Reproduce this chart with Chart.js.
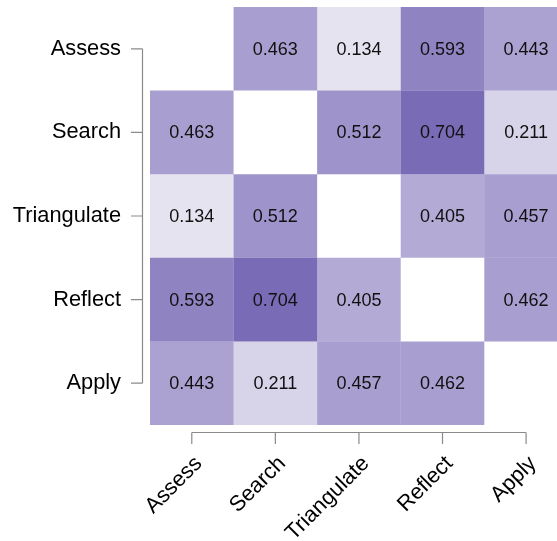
<!DOCTYPE html>
<html>
<head>
<meta charset="utf-8">
<script src="https://cdn.jsdelivr.net/npm/chart.js@4/dist/chart.umd.min.js"></script>
<style>
  html, body { margin: 0; padding: 0; background: #fff; }
  #wrap { width: 557px; height: 541px; position: relative; }
</style>
</head>
<body>
<div id="wrap"><canvas id="c"></canvas></div>
<script>
// Categories (same on both axes)
const categories = ['Assess', 'Search', 'Triangulate', 'Reflect', 'Apply'];

// Correlation matrix rows (null = diagonal, left blank)
const rowAssess      = [null, 0.463, 0.134, 0.593, 0.443];
const rowSearch      = [0.463, null, 0.512, 0.704, 0.211];
const rowTriangulate = [0.134, 0.512, null, 0.405, 0.457];
const rowReflect     = [0.593, 0.704, 0.405, null, 0.462];
const rowApply       = [0.443, 0.211, 0.457, 0.462, null];
const matrixRows = [rowAssess, rowSearch, rowTriangulate, rowReflect, rowApply];

const BASE = [66, 45, 152];
const FONT = "'Liberation Sans', Arial, Helvetica, sans-serif";

// One dataset per column; each data point is a floating bar spanning one cell.
const datasets = categories.map((col, c) => {
  const pts = [];
  matrixRows.forEach((row, r) => {
    const v = row[c];
    if (v !== null) pts.push({ y: r + 1, x: [c + 0.5, c + 1.5], v: v });
  });
  return {
    label: col,
    data: pts,
    backgroundColor: ctx => {
      const v = ctx.raw ? ctx.raw.v : 0;
      return `rgba(${BASE[0]},${BASE[1]},${BASE[2]},${v})`;
    },
    borderWidth: 0,
    inflateAmount: 0,
    grouped: false,
    categoryPercentage: 1,
    barPercentage: 1
  };
});

const tickValues = categories.map((_, i) => ({ value: i + 1 }));

const cellLabels = {
  id: 'cellLabels',
  afterDatasetsDraw(chart) {
    const ctx = chart.ctx;
    ctx.save();
    ctx.font = `18px ${FONT}`;
    ctx.fillStyle = '#111';
    ctx.textAlign = 'center';
    ctx.textBaseline = 'middle';
    chart.data.datasets.forEach((ds, di) => {
      const meta = chart.getDatasetMeta(di);
      meta.data.forEach((el, i) => {
        const p = el.getProps(['x', 'y', 'base'], true);
        const cx = (p.x + p.base) / 2;
        ctx.fillText(ds.data[i].v.toFixed(3), cx, p.y + 1);
      });
    });
    ctx.restore();
  }
};

const rangeFrame = {
  id: 'rangeFrame',
  afterDraw(chart) {
    const { ctx, chartArea, scales } = chart;
    const xs = scales.x, ys = scales.y;
    ctx.save();
    ctx.strokeStyle = '#8a8a8a';
    ctx.lineWidth = 1.2;
    // y axis
    const ax = chartArea.left - 7.5;
    const y1 = ys.getPixelForValue(1), y5 = ys.getPixelForValue(categories.length);
    ctx.beginPath();
    ctx.moveTo(ax, y1); ctx.lineTo(ax, y5);
    categories.forEach((_, i) => {
      const y = ys.getPixelForValue(i + 1);
      ctx.moveTo(ax, y); ctx.lineTo(ax - 11.5, y);
    });
    // x axis
    const ay = chartArea.bottom + 7.5;
    const x1 = xs.getPixelForValue(1), x5 = xs.getPixelForValue(categories.length);
    ctx.moveTo(x1, ay); ctx.lineTo(x5, ay);
    categories.forEach((_, i) => {
      const x = xs.getPixelForValue(i + 1);
      ctx.moveTo(x, ay); ctx.lineTo(x, ay + 11.5);
    });
    ctx.stroke();
    ctx.restore();
  }
};

new Chart(document.getElementById('c'), {
  type: 'bar',
  data: { datasets },
  options: {
    indexAxis: 'y',
    responsive: true,
    maintainAspectRatio: false,
    animation: false,
    layout: { autoPadding: false, padding: { top: 7, right: 0, left: 0, bottom: 0 } },
    plugins: { legend: { display: false }, tooltip: { enabled: false } },
    scales: {
      x: {
        type: 'linear',
        position: 'bottom',
        offset: false,
        min: 0.5,
        max: 5.37,
        grid: { display: false, drawTicks: false, offset: false },
        border: { display: false },
        afterBuildTicks: s => { s.ticks = tickValues.map(t => ({ value: t.value })); },
        afterFit: s => { s.height = 116; s.paddingLeft = 0; s.paddingRight = 0; },
        ticks: {
          autoSkip: false,
          minRotation: 45,
          maxRotation: 45,
          padding: 26,
          labelOffset: 7,
          color: '#000',
          font: { family: FONT, size: 21.8 },
          callback: v => categories[Math.round(v) - 1] || ''
        }
      },
      y: {
        type: 'linear',
        position: 'left',
        offset: false,
        reverse: true,
        min: 0.5,
        max: 5.5,
        grid: { display: false, drawTicks: false, offset: false },
        border: { display: false },
        afterBuildTicks: s => { s.ticks = tickValues.map(t => ({ value: t.value })); },
        afterFit: s => { s.width = 150; s.paddingTop = 0; s.paddingBottom = 0; },
        ticks: {
          autoSkip: false,
          padding: 29,
          color: '#000',
          font: { family: FONT, size: 21.8 },
          callback: v => categories[Math.round(v) - 1] || ''
        }
      }
    }
  },
  plugins: [cellLabels, rangeFrame]
});
</script>
</body>
</html>
